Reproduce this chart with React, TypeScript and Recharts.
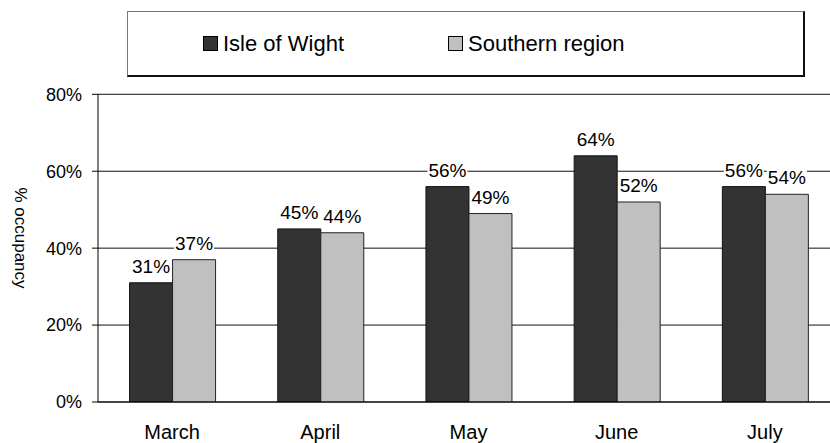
import React from 'react';
import { BarChart, Bar, XAxis, YAxis, CartesianGrid, LabelList, Legend, Label } from 'recharts';

const months = ['March', 'April', 'May', 'June', 'July'];
const isleOfWight = [31, 45, 56, 64, 56];
const southernRegion = [37, 44, 49, 52, 54];
const yTicks = [0, 20, 40, 60, 80];
const boundaryTicks = [0, 1, 2, 3, 4, 5];
const seriesNames = ['Isle of Wight', 'Southern region'];
const seriesColors = ['#333333', '#c0c0c0'];

const data = months.map((m, i) => ({ month: m, iow: isleOfWight[i], south: southernRegion[i] }));

const FONT = '"Liberation Sans", Arial, sans-serif';

const legendItemLeft = [75, 320];

const LegendBox = () => (
  <div
    style={{
      width: 678,
      height: 66,
      boxSizing: 'border-box',
      borderTop: '1.5px solid #777',
      borderLeft: '1.5px solid #777',
      borderRight: '2px solid #111',
      borderBottom: '2px solid #111',
      background: '#fff',
      position: 'relative',
      fontFamily: FONT,
      fontSize: 22,
      color: '#000',
    }}
  >
    {seriesNames.map((n, i) => (
      <div
        key={n}
        style={{
          position: 'absolute',
          left: legendItemLeft[i],
          top: 0,
          height: 63,
          display: 'flex',
          alignItems: 'center',
          whiteSpace: 'nowrap',
        }}
      >
        <span
          style={{
            display: 'inline-block',
            width: 15,
            height: 15,
            boxSizing: 'border-box',
            background: seriesColors[i],
            border: '1px solid #000',
            marginRight: 5,
          }}
        />
        <span style={{ lineHeight: '26px' }}>{n}</span>
      </div>
    ))}
  </div>
);

const BoxLabel = (props: any) => {
  const { x, y, width, value } = props;
  const cx = Number(x) + Number(width) / 2;
  const base = Number(y) - 10;
  const w = 40;
  return (
    <g>
      <rect x={cx - w / 2} y={base - 16} width={w} height={20} fill="#fff" />
      <text x={cx} y={base} textAnchor="middle" fontSize={19} fontFamily={FONT} fill="#000">
        {`${value}%`}
      </text>
    </g>
  );
};

const YTitle = () => (
  <text
    transform="translate(20,238) rotate(90)"
    textAnchor="middle"
    dominantBaseline="central"
    fontSize={17}
    fontFamily={FONT}
    fill="#000"
  >
    % occupancy
  </text>
);

export default function App() {
  return (
    <div
      style={{
        position: 'fixed',
        left: 0,
        top: 0,
        width: 830,
        height: 443,
        overflow: 'hidden',
        background: '#fff',
      }}
    >
      <BarChart
        width={839}
        height={443}
        data={data}
        margin={{ top: 94.3, right: 0, bottom: 0, left: 0 }}
        barCategoryGap="21.3%"
        barGap={0}
        style={{ fontFamily: FONT }}
      >
        <CartesianGrid horizontal vertical={false} stroke="#111" xAxisId="cat" />
        <XAxis
          xAxisId="edges"
          type="number"
          domain={[0, 5]}
          ticks={boundaryTicks}
          tick={false}
          axisLine={false}
          tickLine={{ stroke: '#333' }}
          tickSize={6}
          height={0}
          allowDataOverflow
        />
        <XAxis
          xAxisId="cat"
          dataKey="month"
          height={41}
          tickLine={false}
          tickSize={0}
          tickMargin={23}
          axisLine={{ stroke: '#000' }}
          tick={{ fontSize: 20, fill: '#000', fontFamily: FONT }}
          interval={0}
        />
        <YAxis
          domain={[0, 80]}
          ticks={yTicks}
          tickFormatter={(v: number) => `${v}%`}
          width={98}
          axisLine={{ stroke: '#000' }}
          tickLine={{ stroke: '#000' }}
          tickSize={6}
          tickMargin={10}
          tick={{ fontSize: 18, fill: '#000', fontFamily: FONT }}
          allowDataOverflow
        >
          <Label content={() => <YTitle />} />
        </YAxis>
        <Legend
          layout="horizontal"
          verticalAlign="middle"
          align="center"
          content={() => <LegendBox />}
          wrapperStyle={{ top: 11, left: 127, width: 678, height: 66, margin: 0 }}
        />
        <Bar xAxisId="cat" dataKey="iow" name={seriesNames[0]} fill={seriesColors[0]} stroke="#111" strokeWidth={1} isAnimationActive={false}>
          <LabelList dataKey="iow" content={BoxLabel} />
        </Bar>
        <Bar xAxisId="cat" dataKey="south" name={seriesNames[1]} fill={seriesColors[1]} stroke="#222" strokeWidth={1} isAnimationActive={false}>
          <LabelList dataKey="south" content={BoxLabel} />
        </Bar>
      </BarChart>
    </div>
  );
}
